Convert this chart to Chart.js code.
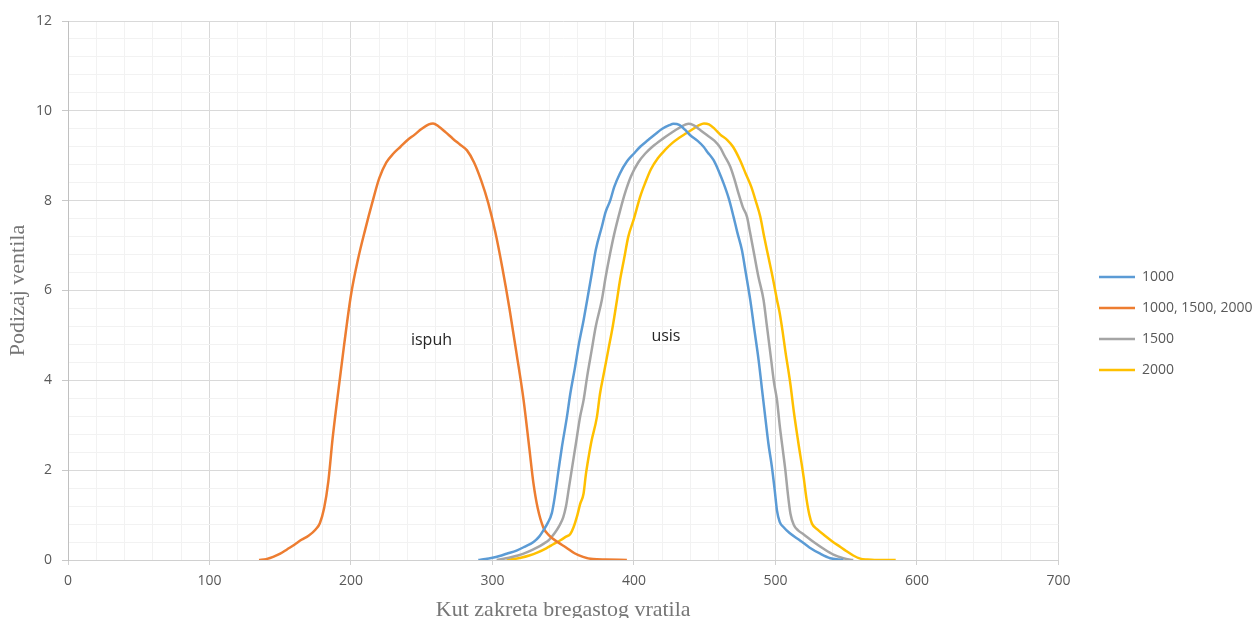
<!DOCTYPE html>
<html>
<head>
<meta charset="utf-8">
<script src="https://cdn.jsdelivr.net/npm/chart.js"></script>
<style>
  html, body { margin: 0; padding: 0; background: #fff; }
  #wrap { width: 1254px; height: 618px; position: relative; }
</style>
</head>
<body>
<div id="wrap"><canvas id="chart"></canvas></div>
<script>
// ===== data =====
const seriesNames = ["1000", "1000, 1500, 2000", "1500", "2000"];

// ispuh (exhaust), same for every speed
const exhaustAngle = [135, 140, 145, 150, 155, 160, 165, 170, 175, 178, 181, 184, 187, 190, 195, 200, 205, 210, 215, 220, 225, 230, 235, 240, 245, 250, 255, 258, 262, 267, 272, 277, 282, 287, 292, 297, 302, 307, 312, 317, 322, 326, 329, 332, 336, 340, 346, 352, 358, 364, 371, 380, 395];
const exhaustLift  = [0, 0.02, 0.07, 0.14, 0.24, 0.34, 0.45, 0.54, 0.68, 0.82, 1.15, 1.75, 2.7, 3.5, 4.75, 5.9, 6.7, 7.35, 7.95, 8.5, 8.85, 9.05, 9.2, 9.35, 9.47, 9.6, 9.7, 9.72, 9.65, 9.52, 9.38, 9.25, 9.12, 8.85, 8.45, 7.95, 7.3, 6.5, 5.6, 4.6, 3.56, 2.5, 1.7, 1.15, 0.72, 0.55, 0.4, 0.28, 0.15, 0.07, 0.02, 0.01, 0];

// usis (intake) 1000 rpm
const intake1000Angle = [290, 295, 300, 305, 310, 317, 323, 329, 333, 336, 339, 342, 344, 346.7, 349, 352.6, 355, 358.4, 361, 364.4, 367, 370.2, 373, 377.3, 380, 383.2, 386, 390, 395, 400, 404.4, 410, 415, 420, 425, 428, 432, 436, 440, 445, 449.2, 452, 456.3, 460, 463.3, 467, 470.4, 473, 476.3, 479, 482.2, 485, 488.1, 490.5, 492.8, 495, 497.5, 499.5, 501.1, 503, 505.8, 510, 517.6, 524, 531.7, 538.8, 545, 548];
const intake1000Lift  = [0, 0.02, 0.05, 0.09, 0.14, 0.21, 0.3, 0.4, 0.52, 0.66, 0.82, 1.05, 1.4, 2.0, 2.5, 3.18, 3.7, 4.3, 4.8, 5.34, 5.8, 6.38, 6.9, 7.42, 7.75, 8.0, 8.3, 8.6, 8.87, 9.05, 9.2, 9.35, 9.48, 9.6, 9.68, 9.71, 9.69, 9.58, 9.45, 9.33, 9.2, 9.08, 8.9, 8.65, 8.39, 8.05, 7.64, 7.3, 6.9, 6.4, 5.79, 5.15, 4.45, 3.8, 3.18, 2.6, 2.07, 1.55, 1.1, 0.85, 0.73, 0.6, 0.43, 0.28, 0.14, 0.04, 0.01, 0];

// usis 1500 rpm
const intake1500Angle = [303, 308, 313, 318, 325, 331, 336, 340, 344, 347, 350, 352, 354, 356.5, 359, 362, 364.4, 367, 370, 373, 377.3, 380, 383, 386, 390.3, 394, 398, 403, 408, 413, 420, 426, 432, 438.6, 442, 447, 452, 457, 461, 464, 468, 471, 474, 477, 479.9, 482, 485, 488, 491.6, 494, 497, 499, 501.1, 503, 505, 507, 508.5, 510.6, 513, 516, 520, 527, 534, 541, 548, 552, 555];
const intake1500Lift  = [0, 0.03, 0.06, 0.1, 0.18, 0.27, 0.36, 0.45, 0.6, 0.75, 0.95, 1.2, 1.6, 2.1, 2.6, 3.2, 3.56, 4.1, 4.65, 5.2, 5.79, 6.3, 6.8, 7.25, 7.79, 8.2, 8.55, 8.85, 9.05, 9.2, 9.37, 9.5, 9.62, 9.71, 9.68, 9.57, 9.45, 9.33, 9.18, 9.0, 8.76, 8.48, 8.15, 7.85, 7.64, 7.3, 6.8, 6.3, 5.79, 5.2, 4.45, 3.95, 3.56, 3.0, 2.5, 2.0, 1.55, 1.03, 0.78, 0.66, 0.57, 0.4, 0.25, 0.12, 0.04, 0.01, 0];

// usis 2000 rpm
const intake2000Angle = [310, 315, 320, 326, 332, 338, 343, 348, 352, 355, 357.3, 360, 362, 364.4, 366, 368, 370, 373.8, 376, 379, 382, 385, 388, 390, 393, 396, 400, 404.4, 408, 412, 417, 422, 427, 432, 437, 442, 446, 449.5, 453, 457, 461, 466, 470, 475, 479, 483, 486, 489.3, 492, 495, 498, 501.1, 503, 505, 507, 510.5, 513, 516, 519.9, 522, 524, 525.8, 530, 535, 540, 545.9, 550, 555, 560, 565, 570, 585];
const intake2000Lift  = [0, 0.02, 0.05, 0.1, 0.17, 0.26, 0.35, 0.44, 0.52, 0.58, 0.73, 1.0, 1.25, 1.48, 1.9, 2.3, 2.65, 3.18, 3.7, 4.2, 4.7, 5.2, 5.79, 6.2, 6.7, 7.2, 7.6, 8.09, 8.4, 8.7, 8.95, 9.13, 9.28, 9.4, 9.5, 9.6, 9.68, 9.72, 9.7, 9.6, 9.47, 9.35, 9.2, 8.9, 8.6, 8.3, 8.0, 7.64, 7.2, 6.75, 6.3, 5.79, 5.5, 5.1, 4.65, 3.93, 3.3, 2.65, 1.85, 1.35, 1.0, 0.81, 0.67, 0.54, 0.42, 0.29, 0.2, 0.1, 0.03, 0.01, 0, 0];

const xMin = 0, xMax = 700, xMajor = 100, xMinor = 20;
const yMin = 0, yMax = 12, yMajor = 2, yMinor = 0.4;

const noteTexts = ["ispuh", "usis"];
const noteX = [256.9, 422.6];
const noteY = [4.78, 4.88];

const xTitle = "Kut zakreta bregastog vratila";
const yTitle = "Podizaj ventila";

// =======================
// HELPERS
// =======================
function toPoints(xs, ys) {
    return xs.map((x, i) => ({ x: x, y: ys[i] }));
}

function isMajor(v, step) {
    const r = v / step;
    return Math.abs(r - Math.round(r)) < 1e-6;
}

const lineDefaults = {
    borderWidth: 2.5,
    pointRadius: 0,
    fill: false,
    cubicInterpolationMode: 'monotone'
};

// text labels inside the plot
const notesPlugin = {
    id: 'notes',
    afterDatasetsDraw(chart) {
        const { ctx, scales } = chart;
        ctx.save();
        ctx.font = '16px "Open Sans"';
        ctx.fillStyle = '#262626';
        ctx.textAlign = 'center';
        ctx.textBaseline = 'alphabetic';
        noteTexts.forEach((t, i) => {
            ctx.fillText(t, scales.x.getPixelForValue(noteX[i]), scales.y.getPixelForValue(noteY[i]));
        });
        ctx.restore();
    }
};

// move legend a bit away from the plot, like Excel does
const legendNudge = {
    id: 'legendNudge',
    afterLayout(chart) {
        const lg = chart.legend;
        if (!lg) return;
        const dx = 1082 - lg.left;
        lg.left += dx;
        lg.right += dx;
        lg.top += 4;
        lg.bottom += 4;
    }
};

const gridColor = (ctx, step) => isMajor(ctx.tick.value, step) ? '#d9d9d9' : '#f2f2f2';

new Chart(document.getElementById("chart"), {
    type: 'line',
    data: {
        datasets: [
            { ...lineDefaults, label: seriesNames[0], data: toPoints(intake1000Angle, intake1000Lift), borderColor: '#5B9BD5', backgroundColor: '#5B9BD5' },
            { ...lineDefaults, label: seriesNames[1], data: toPoints(exhaustAngle, exhaustLift), borderColor: '#ED7D31', backgroundColor: '#ED7D31' },
            { ...lineDefaults, label: seriesNames[2], data: toPoints(intake1500Angle, intake1500Lift), borderColor: '#A5A5A5', backgroundColor: '#A5A5A5' },
            { ...lineDefaults, label: seriesNames[3], data: toPoints(intake2000Angle, intake2000Lift), borderColor: '#FFC000', backgroundColor: '#FFC000' }
        ]
    },
    options: {
        responsive: true,
        maintainAspectRatio: false,
        animation: false,
        layout: { padding: { top: 21, right: 15, bottom: 0, left: 0 } },
        scales: {
            x: {
                type: 'linear',
                min: xMin,
                max: xMax,
                afterFit: (s) => { s.height = 58; },
                ticks: {
                    stepSize: xMinor,
                    autoSkip: false,
                    maxRotation: 0,
                    padding: 8,
                    color: '#595959',
                    font: { family: 'Open Sans', size: 14 },
                    callback: (v) => isMajor(v, xMajor) ? String(v) : ''
                },
                grid: {
                    color: (ctx) => gridColor(ctx, xMajor),
                    tickColor: (ctx) => isMajor(ctx.tick.value, xMajor) ? '#d0d0d0' : 'rgba(0,0,0,0)',
                    tickLength: 5,
                    lineWidth: 1
                },
                border: { color: '#d0d0d0', width: 1 },
                title: {
                    display: true,
                    text: xTitle,
                    color: '#767676',
                    font: { family: 'Liberation Serif', size: 22 },
                    padding: { top: 0, bottom: -5 }
                }
            },
            y: {
                type: 'linear',
                min: yMin,
                max: yMax,
                afterFit: (s) => { s.width = 68; },
                ticks: {
                    stepSize: yMinor,
                    autoSkip: false,
                    padding: 10,
                    color: '#595959',
                    font: { family: 'Open Sans', size: 14 },
                    callback: (v) => isMajor(v, yMajor) ? String(Math.round(v)) : ''
                },
                grid: {
                    color: (ctx) => gridColor(ctx, yMajor),
                    tickColor: (ctx) => isMajor(ctx.tick.value, yMajor) ? '#c8c8c8' : 'rgba(0,0,0,0)',
                    tickLength: 6,
                    lineWidth: 1
                },
                border: { color: '#c0c0c0', width: 1 },
                title: {
                    display: true,
                    text: yTitle,
                    color: '#767676',
                    font: { family: 'Liberation Serif', size: 22 },
                    padding: { top: 5, bottom: 0 }
                }
            }
        },
        plugins: {
            legend: {
                position: 'right',
                labels: {
                    usePointStyle: true,
                    pointStyle: 'line',
                    pointStyleWidth: 36,
                    padding: 17,
                    color: '#595959',
                    font: { family: 'Open Sans', size: 14 }
                }
            },
            tooltip: { enabled: false }
        }
    },
    plugins: [notesPlugin, legendNudge]
});
</script>
</body>
</html>
